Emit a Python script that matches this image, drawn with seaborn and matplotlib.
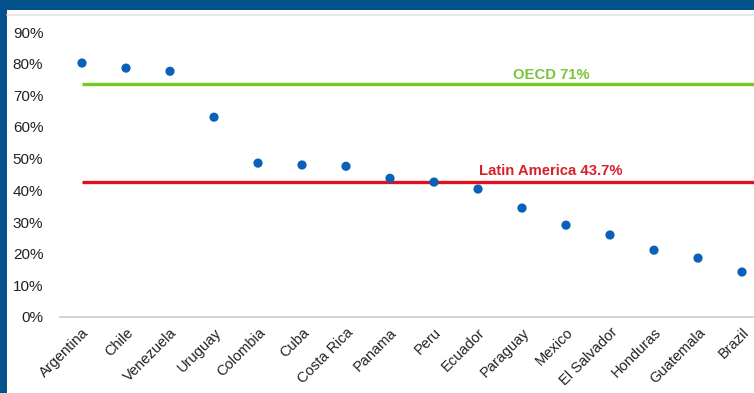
import matplotlib
matplotlib.use("Agg")
import matplotlib.pyplot as plt
import seaborn as sns
from matplotlib.patches import Rectangle
from matplotlib.lines import Line2D
from matplotlib.ticker import FuncFormatter

# data
countries = ["Argentina", "Chile", "Venezuela", "Uruguay", "Colombia", "Cuba",
             "Costa Rica", "Panama", "Peru", "Ecuador", "Paraguay", "Mexico",
             "El Salvador", "Honduras", "Guatemala", "Brazil"]
share = [80.2, 78.6, 77.6, 63.1, 48.6, 48.0, 47.6, 43.8, 42.6, 40.4,
         34.4, 29.0, 25.9, 21.1, 18.6, 14.2]
yticks = [0, 10, 20, 30, 40, 50, 60, 70, 80, 90]

# reference lines (drawn position) and their labels
oecd_line = 73.5
oecd_label = "OECD 71%"
latam_line = 42.6
latam_label = "Latin America 43.7%"

sns.set_theme(style="white")
plt.rcParams["font.family"] = ["Liberation Sans", "DejaVu Sans"]

fig = plt.figure(figsize=(7.54, 3.93), dpi=100)
fig.patch.set_facecolor("#03528c")
# white slide area inside the blue frame
fig.patches.append(Rectangle((7 / 754, 0), 1, 1 - 10 / 393, transform=fig.transFigure,
                             facecolor="white", edgecolor="none", zorder=-2))
fig.lines.append(Line2D([7 / 754, 1], [1 - 15 / 393] * 2, transform=fig.transFigure,
                        color="#e4e4e4", lw=1.2, zorder=-1))

ax = fig.add_axes([60 / 754, 1 - 317 / 393, 1 - 60 / 754, (317 - 32) / 393])
ax.set_facecolor("none")

n = len(countries)
ax.hlines(oecd_line, 0, n + 2, color="#72cc1c", lw=2.4, zorder=2)
ax.hlines(latam_line, 0, n + 2, color="#e0101e", lw=2.4, zorder=2)
ax.text(10.66, oecd_line + 0.6, oecd_label, color="#7dc23c", fontsize=10.7,
        fontweight="bold", ha="center", va="bottom")
ax.text(10.66, latam_line + 1.3, latam_label, color="#d8202a", fontsize=10.7,
        fontweight="bold", ha="center", va="bottom")

sns.scatterplot(x=countries, y=share, ax=ax, color="#0a62b8", s=44,
                edgecolor="none", zorder=3)

ax.set_xlim(-0.5, (754 - 82) / 44)
ax.set_ylim(0, 90)
ax.set_yticks(yticks)
ax.yaxis.set_major_formatter(FuncFormatter(lambda v, p: f"{v:.0f}%"))
ax.tick_params(axis="y", length=0, pad=12, labelsize=11, labelcolor="#222222")
ax.tick_params(axis="x", length=0, pad=6, labelsize=10.5, labelcolor="#222222")
for lbl in ax.get_xticklabels():
    lbl.set_rotation(45)
    lbl.set_ha("right")
    lbl.set_rotation_mode("anchor")

for side in ["top", "right", "left"]:
    ax.spines[side].set_visible(False)
ax.spines["bottom"].set_color("#cccccc")
ax.spines["bottom"].set_linewidth(1.2)
ax.set_xlabel("")
ax.set_ylabel("")

fig.savefig("out.png", dpi=100, facecolor=fig.get_facecolor())
